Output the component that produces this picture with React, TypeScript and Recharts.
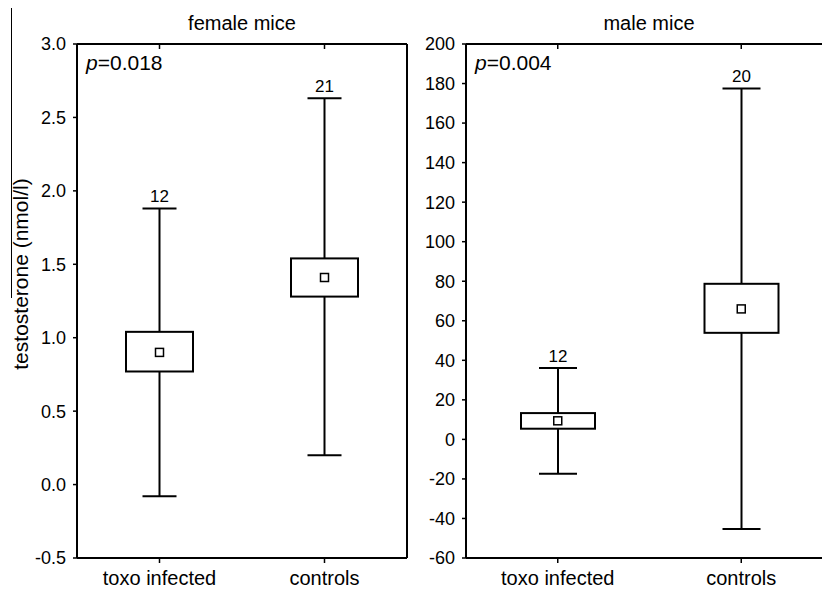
import React from 'react'
import { ComposedChart, Bar, Scatter, XAxis, YAxis } from 'recharts'

const groups = ['toxo infected', 'controls']

const femaleMin = [-0.08, 0.2]
const femaleQ1 = [0.77, 1.28]
const femaleMean = [0.9, 1.41]
const femaleQ3 = [1.04, 1.54]
const femaleMax = [1.88, 2.63]
const femaleN = [12, 21]
const femaleTicks = [-0.5, 0, 0.5, 1, 1.5, 2, 2.5, 3]

const maleMin = [-17.4, -45.3]
const maleQ1 = [5.4, 53.9]
const maleMean = [9.4, 66]
const maleQ3 = [13.3, 78.7]
const maleMax = [36.1, 177.5]
const maleN = [12, 20]
const maleTicks = [-60, -40, -20, 0, 20, 40, 60, 80, 100, 120, 140, 160, 180, 200]

const font = '"Liberation Sans", Arial, sans-serif'

function buildRows(min: number[], q1: number[], mean: number[], q3: number[], max: number[], n: number[]) {
  return groups.map((g, i) => ({
    group: g,
    range: [min[i], max[i]],
    min: min[i],
    q1: q1[i],
    mean: mean[i],
    q3: q3[i],
    max: max[i],
    n: n[i],
  }))
}

const femaleRows = buildRows(femaleMin, femaleQ1, femaleMean, femaleQ3, femaleMax, femaleN)
const maleRows = buildRows(maleMin, maleQ1, maleMean, maleQ3, maleMax, maleN)

// whisker + box drawn from the bar's [min, max] pixel span
function makeBoxShape(capWidth: number) {
  return (props: any) => {
    const { x, y, width, height, payload } = props
    const { min, max, q1, q3, n } = payload
    const toY = (v: number) => y + ((max - v) / (max - min)) * height
    const cx = x + width / 2
    const top = y
    const bottom = y + height
    const boxTop = toY(q3)
    const boxBottom = toY(q1)
    return (
      <g>
        <line x1={cx} x2={cx} y1={top} y2={boxTop} stroke="#000" strokeWidth={2} />
        <line x1={cx} x2={cx} y1={boxBottom} y2={bottom} stroke="#000" strokeWidth={2} />
        <line x1={cx - capWidth / 2} x2={cx + capWidth / 2} y1={top} y2={top} stroke="#000" strokeWidth={2} />
        <line x1={cx - capWidth / 2} x2={cx + capWidth / 2} y1={bottom} y2={bottom} stroke="#000" strokeWidth={2} />
        <rect x={x} y={boxTop} width={width} height={boxBottom - boxTop} fill="#fff" stroke="#000" strokeWidth={2} />
        <text x={cx} y={top - 6} textAnchor="middle" fontSize={17} fontFamily={font} fill="#000">
          {n}
        </text>
      </g>
    )
  }
}

const MeanMark = (props: any) => {
  const { cx, cy } = props
  return <rect x={cx - 4} y={cy - 4} width={8} height={8} fill="#fff" stroke="#000" strokeWidth={1.5} />
}

const axisLine = { stroke: '#000', strokeWidth: 2 }
const tickLine = { stroke: '#000', strokeWidth: 1.5 }
const tickFont = { fill: '#000', fontSize: 18, fontFamily: font }
const labelFont = { fill: '#000', fontSize: 20, fontFamily: font }

interface PanelProps {
  rows: any[]
  ticks: number[]
  digits: number
  barSize: number
  capWidth: number
  width: number
  axisWidth: number
  showRight: boolean
}

function Panel({ rows, ticks, digits, barSize, capWidth, width, axisWidth, showRight }: PanelProps) {
  const domain = [ticks[0], ticks[ticks.length - 1]]
  return (
    <ComposedChart width={width} height={589} data={rows} margin={{ top: 44, right: 1, bottom: 0, left: 0 }}>
      <XAxis
        dataKey="group"
        xAxisId="bottom"
        height={31}
        axisLine={axisLine}
        tickLine={tickLine}
        tickSize={5}
        tickMargin={8}
        tick={labelFont}
      />
      <XAxis
        dataKey="group"
        xAxisId="top"
        orientation="top"
        mirror
        height={1}
        axisLine={axisLine}
        tickLine={tickLine}
        tickSize={5}
        tickFormatter={() => ''}
      />
      <YAxis
        yAxisId="left"
        type="number"
        domain={domain}
        ticks={ticks}
        width={axisWidth}
        axisLine={axisLine}
        tickLine={tickLine}
        tickSize={4}
        tickMargin={7}
        tick={tickFont}
        tickFormatter={(v: number) => v.toFixed(digits)}
        interval={0}
        allowDataOverflow
      />
      <YAxis
        yAxisId="right"
        orientation="right"
        mirror
        type="number"
        domain={domain}
        ticks={ticks}
        width={1}
        axisLine={showRight ? axisLine : false}
        tickLine={showRight ? tickLine : false}
        tickSize={4}
        interval={0}
        tickFormatter={() => ''}
      />
      <Bar
        dataKey="range"
        xAxisId="bottom"
        yAxisId="left"
        barSize={barSize}
        shape={makeBoxShape(capWidth)}
        isAnimationActive={false}
      />
      <Scatter dataKey="mean" xAxisId="bottom" yAxisId="left" shape={MeanMark} isAnimationActive={false} />
    </ComposedChart>
  )
}

export default function App() {
  return (
    <div
      style={{
        position: 'absolute',
        left: 0,
        top: 0,
        width: 822,
        height: 589,
        overflow: 'hidden',
        background: '#fff',
        fontFamily: font,
      }}
    >
      <div style={{ position: 'absolute', left: 11, top: 8, width: 1, height: 290, background: '#000' }} />
      <div
        style={{
          position: 'absolute',
          left: 21,
          top: 274,
          transform: 'translate(-50%, -50%) rotate(-90deg)',
          whiteSpace: 'nowrap',
          fontSize: 21,
          color: '#000',
        }}
      >
        testosterone (nmol/l)
      </div>

      <div style={{ position: 'absolute', left: 0, top: 0 }}>
        <Panel rows={femaleRows} ticks={femaleTicks} digits={1} barSize={67} capWidth={34} width={408} axisWidth={77} showRight />
      </div>
      <div style={{ position: 'absolute', left: 420, top: 0 }}>
        <Panel rows={maleRows} ticks={maleTicks} digits={0} barSize={74} capWidth={38} width={414} axisWidth={46} showRight={false} />
      </div>

      <div style={{ position: 'absolute', left: 242, top: 12, transform: 'translateX(-50%)', fontSize: 20, color: '#000', whiteSpace: 'nowrap' }}>
        female mice
      </div>
      <div style={{ position: 'absolute', left: 649, top: 12, transform: 'translateX(-50%)', fontSize: 20, color: '#000', whiteSpace: 'nowrap' }}>
        male mice
      </div>
      <div style={{ position: 'absolute', left: 86, top: 51, fontSize: 21, color: '#000', whiteSpace: 'nowrap' }}>
        <i>p</i>=0.018
      </div>
      <div style={{ position: 'absolute', left: 475, top: 51, fontSize: 21, color: '#000', whiteSpace: 'nowrap' }}>
        <i>p</i>=0.004
      </div>
    </div>
  )
}
